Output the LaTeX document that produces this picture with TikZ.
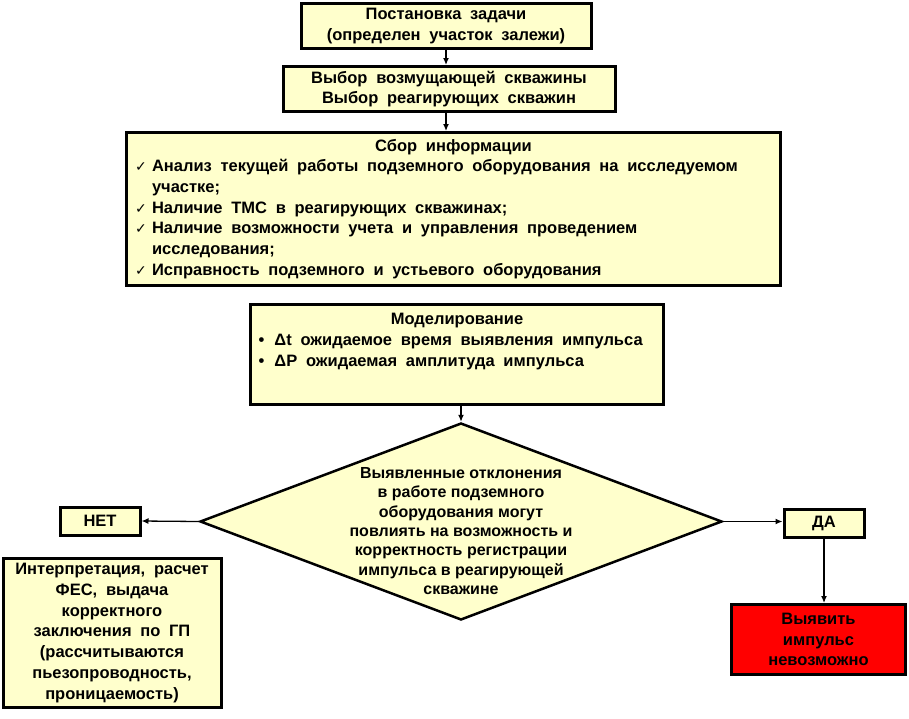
\documentclass[tikz,border=0pt]{standalone}
\usepackage{fontspec}
\setmainfont{Liberation Sans}
\newfontfamily\wordfont{Liberation Sans}[WordSpace=1.9]
\newfontfamily\symfont{DejaVu Sans}
\usetikzlibrary{arrows.meta}
\usetikzlibrary{shapes.geometric}
\definecolor{boxfill}{RGB}{255,255,204}
\definecolor{alarmred}{RGB}{255,0,0}
\newcommand{\okmark}{{\symfont\mdseries\fontsize{14}{14}\selectfont ✓}}

\begin{document}
\begin{tikzpicture}[x=1pt,y=-1pt,
        blockbox/.style={draw, line width=3pt, fill=boxfill, inner sep=0pt,
            font=\wordfont\bfseries\fontsize{16.5}{20.7}\selectfont, align=center},
        decision/.style={diamond, draw, line width=2.5pt, fill=boxfill, inner sep=0pt},
        arrowline/.style={-{Latex[length=7pt,width=6pt]}, line width=1.3pt}]
        \useasboundingbox (0,0) rectangle (909,718);

        % top of the scheme
        \node[blockbox, minimum width=290pt, minimum height=45pt] (task) at
        (446,26) {Постановка задачи\\(определен участок залежи)};

        \node[blockbox, minimum width=332pt, minimum height=45pt] (choice) at
        (449,89) {Выбор возмущающей скважины\\Выбор реагирующих скважин};

        \node[blockbox, minimum width=654pt, minimum height=153pt] (info) at
        (453.5,209) {
                \begin{tabular}{@{}p{12pt}@{\hspace{5pt}}p{620pt}@{}}
                    \multicolumn{2}{@{}c@{}}{Сбор информации}\\
                    \okmark & Анализ текущей работы подземного оборудования на исследуемом\\
                    & участке;\\
                    \okmark & Наличие ТМС в реагирующих скважинах;\\
                    \okmark & Наличие возможности учета и управления проведением\\
                    & исследования;\\
                    \okmark & Исправность подземного и устьевого оборудования
                \end{tabular}};

        \node[blockbox, minimum width=413pt, minimum height=100pt] (model) at
        (457,354.5) {\parbox[c][88pt][t]{397pt}{
                \begin{tabular}{@{}p{10pt}@{\hspace{6pt}}p{381pt}@{}}
                    \multicolumn{2}{@{}c@{}}{Моделирование}\\
                    • & Δt ожидаемое время выявления импульса\\
                    • & ΔP ожидаемая амплитуда импульса
                \end{tabular}}};

        % decision
        \node[decision, minimum width=522pt, minimum height=197pt] (check) at
        (461,521.5) {};
        \node[font=\bfseries\fontsize{16}{19.4}\selectfont, align=center]
        (checktext) at (461,531) {Выявленные отклонения\\в работе подземного\\
                оборудования могут\\повлиять на возможность и\\корректность
                регистрации\\импульса в реагирующей\\скважине};

        \node[blockbox, minimum width=80pt, minimum height=28pt] (no) at
        (100,521) {НЕТ};
        \node[blockbox, minimum width=80pt, minimum height=28pt] (yes) at
        (824,523) {ДА};

        \node[blockbox, minimum width=218pt, minimum height=149pt] (interp) at
        (112,633) {Интерпретация, расчет\\ФЕС, выдача\\корректного\\заключения
                по ГП\\(рассчитываются\\пьезопроводность,\\проницаемость)};

        \node[blockbox, fill=alarmred, minimum width=174pt, minimum
        height=70pt] (fail) at (818.5,639.5) {Выявить\\импульс\\невозможно};

        % connectors
        \draw[arrowline] (task.south) -- (task.south |- choice.north);
        \draw[arrowline] (task.south |- choice.south) -- (task.south |- info.north);
        \draw[arrowline] (check.north |- model.south) -- (check.north);
        \draw[arrowline] (check.west) -- (no.east);
        \draw[arrowline] (check.east) -- (check.east -| yes.west);
        \draw[arrowline] (yes.south) -- (yes.south |- fail.north);
    \end{tikzpicture}
\end{document}
